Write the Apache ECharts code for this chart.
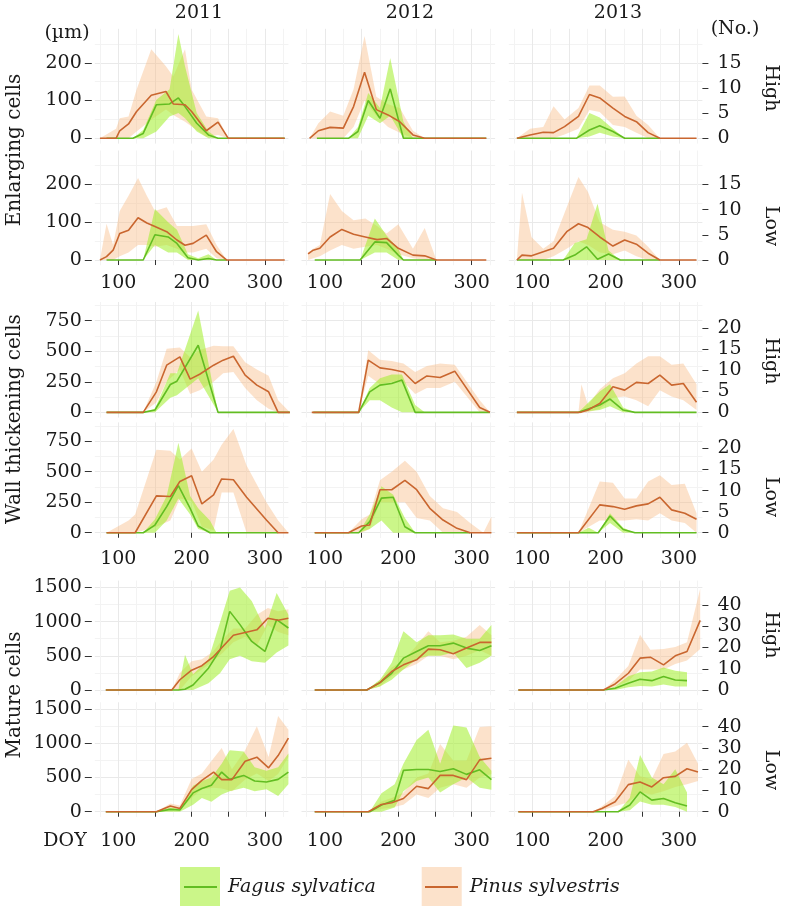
<!DOCTYPE html>
<html><head><meta charset="utf-8">
<script src="https://cdn.jsdelivr.net/npm/echarts@6/dist/echarts.min.js"></script>
<style>html,body{margin:0;padding:0;background:#fff}#c{width:787px;height:906px}</style>
</head><body><div id="c"></div>
<script>
// ---------- DATA: rows are [DOY, mean, lower, upper] ----------
const years = ['2011', '2012', '2013'];
const xMajorTicks = [100, 150, 200, 250, 300];
const xTickLabels = [100, 200, 300];
const xMinorGrid = [75, 125, 175, 225, 275, 325];

const enlTicks = [0, 100, 200], enlMinor = [50, 150, 250], enlRightTicks = [0, 5, 10, 15];
const wallTicks = [0, 250, 500, 750], wallMinor = [125, 375, 625, 875], wallRightTicks = [0, 5, 10, 15, 20];
const matTicks = [0, 500, 1000, 1500], matMinor = [250, 750, 1250], matRightTicks = [0, 10, 20, 30, 40];

// Enlarging cells - High
const enlHigh2011Pinus = [[75,0,0,0],[97,0,0,25],[102,20,0,53],[114,38,0,58],[125,71,18,129],[145,114,49,236],[165,124,76,191],[175,91,62,164],[191,89,44,236],[200,71,31,129],[220,20,4,58],[236,43,9,53],[250,0,0,0],[327,0,0,0]];
const enlHigh2011Fagus = [[84,0,0,0],[120,0,0,0],[134,13,0,22],[152,89,18,102],[170,91,58,130],[182,107,67,276],[191,84,53,191],[207,40,18,67],[223,9,0,18],[236,0,0,0],[327,0,0,0]];
const enlHigh2012Pinus = [[79,0,0,0],[91,20,0,40],[107,29,0,71],[125,27,0,60],[139,84,30,130],[154,175,100,271],[170,76,60,110],[186,62,30,90],[202,44,15,80],[220,9,0,20],[236,0,0,0],[320,0,0,0]];
const enlHigh2012Fagus = [[89,0,0,0],[132,0,0,0],[145,18,0,30],[159,100,60,120],[175,53,40,80],[189,131,60,213],[207,0,0,44],[220,0,0,0],[320,0,0,0]];
const enlHigh2013Pinus = [[79,0,0,0],[97,9,0,25],[115,16,0,30],[129,15,0,85],[144,31,10,50],[163,58,25,80],[178,116,75,140],[192,107,70,140],[210,80,35,110],[226,58,30,111],[242,44,15,60],[258,15,0,35],[274,0,0,0],[324,0,0,0]];
const enlHigh2013Fagus = [[79,0,0,0],[160,0,0,0],[178,22,5,67],[192,33,15,55],[210,18,5,25],[226,0,0,0],[274,0,0,0]];
// Enlarging cells - Low
const enlLow2011Pinus = [[75,0,0,0],[84,9,0,96],[93,26,0,40],[102,70,10,130],[114,79,20,170],[127,112,40,217],[139,98,40,170],[150,89,35,130],[166,75,40,140],[180,53,30,90],[191,39,20,90],[202,44,20,90],[220,66,30,95],[234,22,5,40],[248,0,0,0],[327,0,0,0]];
const enlLow2011Fagus = [[84,0,0,0],[134,0,0,0],[150,67,40,135],[168,61,20,100],[180,44,20,80],[195,6,0,15],[209,0,0,5],[223,4,0,15],[234,0,0,0],[248,0,0,0]];
const enlLow2012Pinus = [[77,16,0,20],[84,26,5,30],[93,31,10,40],[107,61,25,175],[123,81,40,130],[139,68,30,105],[155,61,35,110],[171,54,40,90],[184,57,30,70],[200,31,15,95],[220,13,5,30],[236,11,0,85],[252,0,0,0],[320,0,0,0]];
const enlLow2012Fagus = [[86,0,0,0],[148,0,0,0],[168,48,20,110],[184,46,20,65],[200,13,0,30],[207,0,0,0],[252,0,0,0]];
const enlLow2013Pinus = [[79,0,0,0],[86,13,0,178],[99,11,0,60],[115,22,0,30],[129,31,10,50],[147,75,30,140],[163,96,50,220],[176,86,40,180],[192,61,20,100],[210,37,15,80],[226,53,25,75],[242,42,10,65],[258,18,0,35],[274,0,0,0],[324,0,0,0]];
const enlLow2013Fagus = [[79,0,0,0],[142,0,0,0],[158,13,0,45],[174,35,0,55],[189,2,0,149],[204,16,0,25],[220,0,0,0],[274,0,0,0]];
// Wall thickening cells - High
const wallHigh2011Pinus = [[84,0,0,0],[134,0,0,0],[152,168,80,250],[166,386,250,520],[184,454,350,530],[198,272,150,450],[211,312,180,510],[230,386,250,545],[243,427,320,540],[257,459,330,540],[273,304,200,410],[289,223,100,350],[305,168,30,300],[318,0,0,100],[334,0,0,0]];
const wallHigh2011Fagus = [[84,0,0,0],[134,0,0,0],[150,19,0,30],[171,228,120,320],[180,255,140,320],[209,549,280,834],[236,0,0,0],[334,0,0,0]];
const wallHigh2012Pinus = [[82,0,0,0],[146,0,0,0],[159,427,300,508],[175,364,230,430],[191,350,250,420],[207,330,250,400],[223,236,150,330],[239,298,200,380],[257,285,200,400],[277,337,250,390],[311,40,0,100],[325,0,0,0]];
const wallHigh2012Fagus = [[84,0,0,0],[146,0,0,0],[161,168,100,200],[175,223,100,280],[191,236,40,310],[205,264,0,310],[223,0,0,60],[236,0,0,0],[325,0,0,0]];
const wallHigh2013Pinus = [[79,0,0,0],[163,0,0,0],[167,2,0,230],[176,19,0,60],[192,73,30,190],[210,209,120,280],[226,182,130,320],[242,245,100,400],[258,236,50,460],[274,304,180,460],[290,223,130,390],[306,236,100,400],[324,82,20,230]];
const wallHigh2013Fagus = [[79,0,0,0],[163,0,0,0],[192,60,20,170],[206,109,50,230],[224,19,0,40],[240,0,0,0],[324,0,0,0]];
// Wall thickening cells - Low
const wallLow2011Pinus = [[84,0,0,0],[114,0,0,100],[123,0,0,150],[152,302,50,680],[171,297,100,670],[184,420,280,600],[200,467,260,690],[214,236,50,500],[230,310,20,600],[241,440,330,720],[257,434,330,850],[275,291,0,550],[302,104,0,250],[318,0,0,100],[332,0,0,0]];
const wallLow2011Fagus = [[84,0,0,0],[134,0,0,0],[150,63,0,110],[166,214,100,300],[182,385,280,736],[198,200,150,300],[209,55,30,200],[225,0,0,100],[234,0,0,0],[318,0,0,0]];
const wallLow2012Pinus = [[86,0,0,0],[132,0,0,0],[150,55,0,110],[161,63,30,150],[175,352,250,430],[191,352,250,500],[209,429,250,590],[225,352,120,500],[243,200,100,300],[261,104,0,200],[280,36,0,170],[298,0,0,80],[316,0,0,0],[327,0,0,130]];
const wallLow2012Fagus = [[86,0,0,0],[146,0,0,0],[161,91,30,150],[177,283,100,380],[193,291,0,310],[209,49,0,120],[223,0,0,0],[298,0,0,0]];
const wallLow2013Pinus = [[79,0,0,0],[163,0,0,0],[192,228,100,420],[210,214,100,410],[226,192,100,280],[242,220,110,280],[258,236,100,420],[274,291,160,470],[290,187,100,390],[308,159,80,400],[324,110,0,160]];
const wallLow2013Fagus = [[79,0,0,0],[163,0,0,0],[177,0,0,40],[190,0,0,0],[206,137,80,160],[224,27,0,40],[240,0,0,0],[324,0,0,0]];
// Mature cells - High
const matHigh2011Pinus = [[83,0,0,0],[173,0,0,0],[184,150,0,250],[200,290,200,420],[214,355,300,450],[229,480,420,560],[243,640,550,750],[257,800,700,900],[273,840,780,900],[289,880,650,1100],[304,1050,950,1200],[318,1020,850,1150],[332,1050,800,1180]];
const matHigh2011Fagus = [[83,0,0,0],[182,0,0,0],[191,10,0,515],[202,74,0,230],[223,319,100,450],[239,588,250,1000],[252,1150,450,1450],[266,956,500,1500],[282,710,420,1300],[300,564,400,900],[316,1029,550,1420],[332,907,650,1100]];
const matHigh2012Pinus = [[86,0,0,0],[157,0,0,0],[175,108,50,150],[191,270,200,330],[207,368,300,430],[225,441,380,650],[241,598,500,860],[257,588,500,700],[275,529,450,720],[293,613,500,780],[311,696,580,950],[327,696,500,800]];
const matHigh2012Fagus = [[86,0,0,0],[157,0,0,0],[175,108,50,150],[191,245,150,400],[207,466,300,858],[225,564,450,700],[241,647,500,800],[257,647,500,800],[275,686,550,810],[293,613,320,750],[311,578,400,750],[327,647,500,950]];
const matHigh2013Pinus = [[81,0,0,0],[197,0,0,0],[213,88,50,150],[231,245,130,350],[247,466,300,808],[261,480,300,590],[279,368,300,600],[295,500,380,630],[311,564,430,700],[329,1019,600,1480]];
const matHigh2013Fagus = [[81,0,0,0],[197,0,0,0],[213,25,0,50],[231,98,40,200],[247,157,60,260],[263,137,50,270],[279,196,80,330],[295,147,50,280],[311,137,50,260]];
// Mature cells - Low
const matLow2011Pinus = [[83,0,0,0],[152,0,0,0],[171,82,40,120],[184,48,20,90],[200,324,200,480],[214,459,330,560],[230,580,350,780],[241,469,340,930],[255,469,300,620],[273,739,470,900],[289,797,560,1250],[305,642,450,800],[318,821,550,1400],[332,1077,800,1200]];
const matLow2011Fagus = [[83,0,0,0],[152,0,0,0],[171,34,0,60],[184,24,0,40],[202,275,100,380],[214,338,200,450],[227,386,145,500],[241,580,250,700],[252,473,300,900],[271,531,350,880],[286,449,300,650],[302,435,330,600],[318,473,230,650],[332,580,400,850]];
const matLow2012Pinus = [[86,0,0,0],[159,0,0,0],[177,106,40,150],[191,130,60,200],[207,193,100,280],[225,372,250,500],[241,338,200,560],[257,531,350,990],[275,531,400,750],[293,469,350,750],[311,758,500,1240],[327,782,550,1250]];
const matLow2012Fagus = [[86,0,0,0],[161,0,0,0],[177,97,0,270],[195,169,60,400],[207,604,300,700],[225,618,450,1050],[241,618,500,1200],[257,589,280,700],[275,628,400,1260],[293,546,500,1230],[311,613,350,800],[327,469,320,600]];
const matLow2013Pinus = [[81,0,0,0],[183,0,0,0],[195,48,20,80],[213,145,80,230],[231,396,140,760],[247,435,280,520],[263,362,250,480],[279,497,300,845],[295,517,360,880],[311,628,400,1010],[326,580,450,700]];
const matLow2013Fagus = [[81,0,0,0],[217,0,0,0],[233,97,20,200],[247,290,150,830],[263,169,100,500],[279,193,100,400],[295,130,70,620],[311,82,0,280]];

// ---------- LAYOUT / STYLE ----------
const FONT = '"DejaVu Serif", serif';
const TXT = '#1a1a1a';
const fagusLine = '#62bd22', pinusLine = '#c9662f';
const fagusFill = 'rgba(160,238,40,0.55)', pinusFill = 'rgba(248,185,130,0.42)';
const XMIN = 68, XMAX = 332;
const colLeft = [94.8, 301.5, 508.8];
const panelW = 193.6;

const rows = [
  {top: 28.8, h: 114.8, min: -14, max: 290, major: enlTicks, minor: enlMinor, rf: 200/15, rticks: enlRightTicks, xlab: false, xo: 0,
   panels: [[enlHigh2011Fagus, enlHigh2011Pinus], [enlHigh2012Fagus, enlHigh2012Pinus], [enlHigh2013Fagus, enlHigh2013Pinus]]},
  {top: 150.5, h: 114.8, min: -14, max: 290, major: enlTicks, minor: enlMinor, rf: 200/15, rticks: enlRightTicks, xlab: true, xo: 0,
   panels: [[enlLow2011Fagus, enlLow2011Pinus], [enlLow2012Fagus, enlLow2012Pinus], [enlLow2013Fagus, enlLow2013Pinus]]},
  {top: 302, h: 115.6, min: -43, max: 903, major: wallTicks, minor: wallMinor, rf: 34.5, rticks: wallRightTicks, xlab: false, xo: 0,
   panels: [[wallHigh2011Fagus, wallHigh2011Pinus], [wallHigh2012Fagus, wallHigh2012Pinus], [wallHigh2013Fagus, wallHigh2013Pinus]]},
  {top: 422.4, h: 115.6, min: -43, max: 903, major: wallTicks, minor: wallMinor, rf: 34.5, rticks: wallRightTicks, xlab: true, xo: 4,
   panels: [[wallLow2011Fagus, wallLow2011Pinus], [wallLow2012Fagus, wallLow2012Pinus], [wallLow2013Fagus, wallLow2013Pinus]]},
  {top: 580.6, h: 114.6, min: -76, max: 1600, major: matTicks, minor: matMinor, rf: 31.07, rticks: matRightTicks, xlab: false, xo: 0,
   panels: [[matHigh2011Fagus, matHigh2011Pinus], [matHigh2012Fagus, matHigh2012Pinus], [matHigh2013Fagus, matHigh2013Pinus]]},
  {top: 702.3, h: 114.6, min: -76, max: 1600, major: matTicks, minor: matMinor, rf: 31.07, rticks: matRightTicks, xlab: true, xo: 7,
   panels: [[matLow2011Fagus, matLow2011Pinus], [matLow2012Fagus, matLow2012Pinus], [matLow2013Fagus, matLow2013Pinus]]}
];

function bandRender(fill) {
  return function (params, api) {
    if (params.dataIndexInside !== 0) return null;
    const n = params.dataInsideLength;
    const up = [], lo = [];
    for (let i = 0; i < n; i++) {
      const x = api.value(0, i);
      up.push(api.coord([x, api.value(2, i)]));
      lo.push(api.coord([x, api.value(1, i)]));
    }
    return {type: 'polygon', silent: true, shape: {points: up.concat(lo.reverse())}, style: {fill: fill}};
  };
}

const plain = v => String(v);
const grid = [], xAxis = [], yAxis = [], series = [];
const labelStyle = {fontFamily: FONT, fontSize: 19, color: TXT, formatter: plain};
rows.forEach((row, r) => {
  for (let c = 0; c < 3; c++) {
    const g = grid.length;
    grid.push({left: colLeft[c], top: row.top, width: panelW, height: row.h, containLabel: false});
    const xi = xAxis.length;
    // major x axis: ticks + major grid lines
    xAxis.push({type: 'value', gridIndex: g, min: XMIN, max: XMAX, position: 'bottom',
      axisLine: {show: false},
      axisTick: {show: row.xlab, customValues: xMajorTicks, length: 5, lineStyle: {color: '#333', width: 1}},
      axisLabel: {show: false},
      splitLine: {show: true, lineStyle: {color: '#e9e9e9', width: 1}}});
    // second x axis: minor grid lines + tick labels (offset per plot)
    xAxis.push({type: 'value', gridIndex: g, min: XMIN, max: XMAX, position: 'bottom', offset: row.xo,
      axisLine: {show: false}, axisTick: {show: false, customValues: xMinorGrid},
      axisLabel: Object.assign({show: row.xlab, customValues: xTickLabels, margin: 8}, labelStyle),
      splitLine: {show: true, lineStyle: {color: '#f3f3f3', width: 1}}});
    const yi = yAxis.length;
    yAxis.push({type: 'value', gridIndex: g, min: row.min, max: row.max, position: 'left', offset: 3,
      axisLine: {show: false},
      axisTick: {show: c === 0, customValues: row.major, length: 7, lineStyle: {color: '#333', width: 1}},
      axisLabel: Object.assign({show: c === 0, customValues: row.major, margin: 10}, labelStyle),
      splitLine: {show: true, lineStyle: {color: '#e9e9e9', width: 1}}});
    yAxis.push({type: 'value', gridIndex: g, min: row.min / row.rf, max: row.max / row.rf, position: 'right',
      axisLine: {show: false},
      axisTick: {show: c === 2, customValues: row.rticks, length: 6, lineStyle: {color: '#333', width: 1}},
      axisLabel: Object.assign({show: c === 2, customValues: row.rticks, margin: 15}, labelStyle),
      splitLine: {show: false}});
    yAxis.push({type: 'value', gridIndex: g, min: row.min, max: row.max, position: 'left',
      axisLine: {show: false}, axisTick: {show: false, customValues: row.minor}, axisLabel: {show: false},
      splitLine: {show: true, lineStyle: {color: '#f3f3f3', width: 1}}});
    const fagus = row.panels[c][0], pinus = row.panels[c][1];
    series.push({name: 'Pinus sylvestris', type: 'custom', xAxisIndex: xi, yAxisIndex: yi, z: 2,
      encode: {x: 0, y: [1, 2]}, renderItem: bandRender(pinusFill), itemStyle: {color: pinusFill},
      data: pinus.map(d => [d[0], d[2], d[3]])});
    series.push({name: 'Fagus sylvatica', type: 'custom', xAxisIndex: xi, yAxisIndex: yi, z: 2,
      encode: {x: 0, y: [1, 2]}, renderItem: bandRender(fagusFill), itemStyle: {color: fagusFill},
      data: fagus.map(d => [d[0], d[2], d[3]])});
    series.push({name: 'Fagus sylvatica', type: 'line', xAxisIndex: xi, yAxisIndex: yi, z: 3,
      showSymbol: false, lineStyle: {color: fagusLine, width: 1.6}, itemStyle: {color: fagusLine},
      data: fagus.map(d => [d[0], d[1]])});
    series.push({name: 'Pinus sylvestris', type: 'line', xAxisIndex: xi, yAxisIndex: yi, z: 4,
      showSymbol: false, lineStyle: {color: pinusLine, width: 1.6}, itemStyle: {color: pinusLine},
      data: pinus.map(d => [d[0], d[1]])});
  }
});

function txt(text, x, y, rot, size) {
  return {type: 'text', x: x, y: y, rotation: rot || 0, silent: true,
    style: {text: text, font: (size || 19) + 'px ' + FONT, fill: TXT, align: 'center', verticalAlign: 'middle'}};
}
const graphic = [
  txt(years[0], 199, 13), txt(years[1], 410, 13), txt(years[2], 618, 13),
  txt('(µm)', 67, 33), txt('(No.)', 735, 29),
  txt('Enlarging cells', 15, 150, Math.PI / 2, 20),
  txt('Wall thickening cells', 15, 419, Math.PI / 2, 20),
  txt('Mature cells', 15, 695, Math.PI / 2, 20),
  txt('High', 771, 88, -Math.PI / 2), txt('Low', 771, 226, -Math.PI / 2),
  txt('High', 771, 361, -Math.PI / 2), txt('Low', 771, 497, -Math.PI / 2),
  txt('High', 771, 635, -Math.PI / 2), txt('Low', 771, 770, -Math.PI / 2),
  txt('DOY', 65, 841)
];

const chart = echarts.init(document.getElementById('c'), null, {renderer: 'canvas'});
chart.setOption({
  animation: false,
  backgroundColor: '#fff',
  grid: grid, xAxis: xAxis, yAxis: yAxis, series: series, graphic: graphic,
  legend: [
    {left: 175, top: 862, itemWidth: 40, itemHeight: 40, itemGap: 46, icon: 'rect', selectedMode: false,
     textStyle: {fontFamily: FONT, fontSize: 19, fontStyle: 'italic', color: TXT, padding: [0, 0, 0, 3]},
     data: [{name: 'Fagus sylvatica', itemStyle: {color: fagusFill}}, {name: 'Pinus sylvestris', itemStyle: {color: pinusFill}}]},
    {left: 179, top: 881, itemWidth: 33, itemHeight: 2, itemGap: 208, icon: 'rect', selectedMode: false,
     formatter: function () { return ''; },
     data: [{name: 'Fagus sylvatica', itemStyle: {color: fagusLine}}, {name: 'Pinus sylvestris', itemStyle: {color: pinusLine}}]}
  ]
});
</script></body></html>
